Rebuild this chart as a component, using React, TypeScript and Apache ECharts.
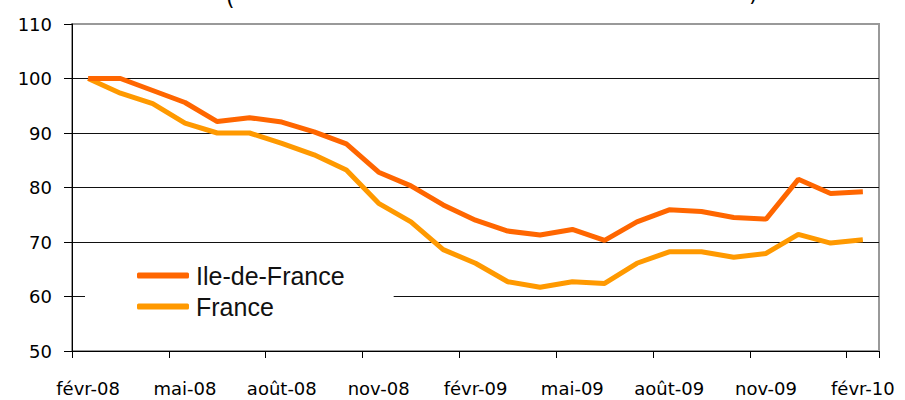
import React, { useEffect, useRef } from "react";
import * as echarts from "echarts";

const categories = [
  "févr-08", "mars-08", "avr-08", "mai-08", "juin-08", "juil-08", "août-08", "sept-08", "oct-08",
  "nov-08", "déc-08", "janv-09", "févr-09", "mars-09", "avr-09", "mai-09", "juin-09", "juil-09",
  "août-09", "sept-09", "oct-09", "nov-09", "déc-09", "janv-10", "févr-10",
];

const ileDeFrance = [
  100, 100, 97.8, 95.6, 92.1, 92.8, 92.0, 90.2, 88.0, 82.8, 80.3, 76.8, 74.0,
  72.0, 71.3, 72.3, 70.3, 73.7, 75.9, 75.6, 74.5, 74.2, 81.5, 78.9, 79.2,
];

const france = [
  100, 97.3, 95.4, 91.8, 90.0, 90.0, 88.1, 86.0, 83.2, 77.1, 73.7, 68.6, 66.1,
  62.7, 61.7, 62.7, 62.4, 66.1, 68.2, 68.2, 67.2, 67.9, 71.4, 69.8, 70.4,
];

const seriesNames = ["Ile-de-France", "France"];

export default function App() {
  const ref = useRef<HTMLDivElement>(null);
  useEffect(() => {
    if (!ref.current) return;
    const chart = echarts.init(ref.current, undefined, { renderer: "svg" });
    const axisFont = { fontFamily: "DejaVu Sans", fontSize: 18, color: "#000" };
    chart.setOption({
      animation: false,
      backgroundColor: "#fff",
      grid: {
        left: 72,
        right: 26,
        top: 24,
        bottom: 49,
        show: true,
        borderColor: "#999",
        borderWidth: 2,
        backgroundColor: "transparent",
      },
      graphic: [
        {
          type: "text",
          left: 226,
          top: -14,
          style: { text: "(", fontSize: 22, fontFamily: "DejaVu Sans", fill: "#000" },
        },
        {
          type: "text",
          left: 749,
          top: -18,
          style: { text: ")", fontSize: 22, fontFamily: "DejaVu Sans", fill: "#000" },
        },
      ],
      legend: {
        orient: "vertical",
        left: 85,
        top: 250,
        padding: [13, 49, 13, 52],
        backgroundColor: "#fff",
        itemWidth: 52,
        itemHeight: 6,
        itemGap: 6,
        icon: "roundRect",
        data: seriesNames,
        textStyle: {
          fontFamily: "Liberation Sans",
          fontSize: 25,
          color: "#111",
          padding: [0, 0, 0, 2],
        },
      },
      xAxis: {
        type: "category",
        data: categories,
        boundaryGap: true,
        axisLine: { show: true, lineStyle: { color: "#000", width: 1 } },
        axisTick: { show: true, interval: 2, length: 7, lineStyle: { color: "#000" } },
        axisLabel: { interval: 2, margin: 28, ...axisFont },
        splitLine: { show: false },
      },
      yAxis: {
        type: "value",
        min: 50,
        max: 110,
        interval: 10,
        axisLine: { show: true, lineStyle: { color: "#000", width: 1 } },
        axisTick: { show: true, length: 8, lineStyle: { color: "#000" } },
        axisLabel: { margin: 20, ...axisFont },
        splitLine: {
          show: true,
          lineStyle: {
            color: ["#000", "#111", "#111", "#111", "#111", "#111", "#999"],
            width: 1,
          },
        },
      },
      series: [
        {
          name: seriesNames[0],
          type: "line",
          data: ileDeFrance,
          showSymbol: false,
          symbol: "none",
          lineStyle: { color: "#FF6600", width: 5 },
          itemStyle: { color: "#FF6600" },
          z: 3,
        },
        {
          name: seriesNames[1],
          type: "line",
          data: france,
          showSymbol: false,
          symbol: "none",
          lineStyle: { color: "#FF9900", width: 5 },
          itemStyle: { color: "#FF9900" },
          z: 2,
        },
      ],
    });
    return () => chart.dispose();
  }, []);
  return <div ref={ref} style={{ width: 905, height: 400, position: "absolute", left: 0, top: 0 }} />;
}
